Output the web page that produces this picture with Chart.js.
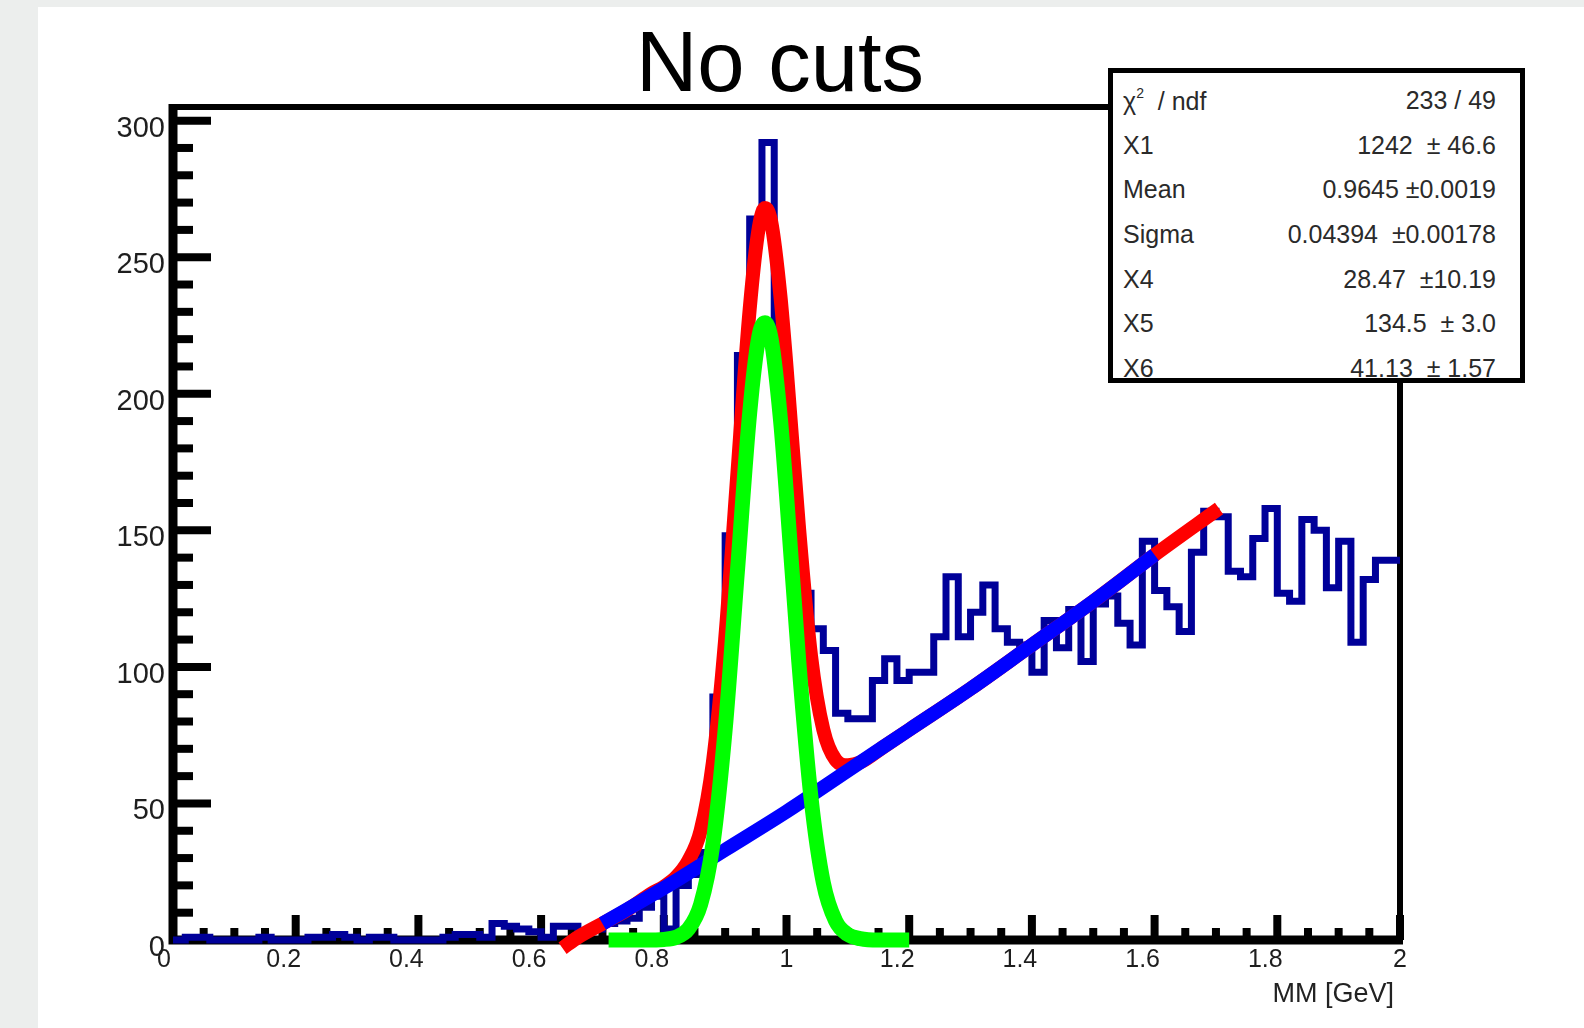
<!DOCTYPE html>
<html lang="en">
<head>
<meta charset="UTF-8" />
<title>No cuts</title>
<script src="https://cdn.jsdelivr.net/npm/chart.js"></script>
<style>
  html, body { margin: 0; padding: 0; }
  body {
    width: 1584px; height: 1028px; position: relative; overflow: hidden;
    background: #eceeed; font-family: "Liberation Sans", Arial, sans-serif;
  }
  .panel { position: absolute; left: 38px; top: 7px; right: 0; bottom: 0; background: #fff; }
  #chart { position: absolute; left: 0; top: 0; }
  .title {
    position: absolute; left: 380px; width: 800px; top: 19px;
    text-align: center; font-size: 85px; line-height: 1; color: #000;
  }
  .xtitle {
    position: absolute; right: 190px; top: 980px;
    font-size: 27px; line-height: 1; color: #222;
  }
  .stats {
    position: absolute; left: 1108px; top: 68px; width: 417px; height: 315px;
    box-sizing: border-box; border: 5px solid #000; background: #fff;
    padding: 5px 24px 0 10px; overflow: hidden; color: #2a2a2a;
  }
  .stats .row {
    display: flex; justify-content: space-between; align-items: center;
    height: 44.7px; font-size: 25px; white-space: pre;
  }
  .stats sup { font-size: 14px; vertical-align: 12px; }
</style>
</head>
<body>
  <div class="panel"></div>
  <canvas id="chart" width="1584" height="1028"></canvas>
  <div class="title">No cuts</div>
  <div class="xtitle">MM [GeV]</div>
  <div class="stats" id="stats"></div>

  <script>
    // histogram: 100 bins of 0.02 GeV from 0 to 2
    const binWidth = 0.02;
    const counts = [
      0, 1, 1, 0, 0, 0, 0, 1, 0, 0,
      0, 1, 1, 2, 1, 0, 1, 1, 0, 0,
      0, 0, 1, 2, 2, 1, 6, 5, 4, 3,
      1, 5, 5, 3, 4, 6, 7, 8, 12, 16,
      4, 20, 24, 32, 89, 148, 214, 264, 292, 203,
      163, 127, 114, 106, 83, 81, 81, 95, 103, 95,
      98, 98, 111, 133, 111, 120, 130, 114, 109, 108,
      98, 117, 107, 121, 102, 123, 126, 116, 108, 146,
      128, 122, 113, 142, 157, 155, 135, 133, 147, 158,
      127, 124, 154, 150, 129, 146, 109, 132, 139, 139
    ];

    // fit curves
    const totalX = [0.635, 0.66, 0.70, 0.74, 0.78, 0.80, 0.82, 0.84, 0.86, 0.88, 0.90, 0.92, 0.94, 0.955, 0.965, 0.975, 0.99, 1.00, 1.02, 1.04, 1.06, 1.08, 1.10, 1.12, 1.16, 1.20, 1.30, 1.40, 1.50, 1.60, 1.705];
    const totalY = [-3, 1, 6, 11, 17, 19.5, 23, 29, 40, 65, 110, 171, 231, 261, 268, 263, 236, 210, 152, 104, 77, 66, 64, 65, 71, 77, 92, 108, 124, 141, 158];

    const bkgX = [0.70, 0.80, 0.90, 1.00, 1.10, 1.20, 1.30, 1.40, 1.50, 1.60];
    const bkgY = [6, 19, 33, 47, 62, 77, 92, 108, 124, 141];

    const sigX = [0.71, 0.74, 0.77, 0.80, 0.82, 0.84, 0.86, 0.88, 0.90, 0.92, 0.94, 0.955, 0.965, 0.975, 0.99, 1.00, 1.02, 1.04, 1.06, 1.08, 1.10, 1.12, 1.15, 1.20];
    const sigY = [0, 0, 0, 0.2, 1, 4, 13, 35, 77, 135, 193, 221, 226, 220, 191, 163, 102, 52, 21, 7, 2, 0.5, 0, 0];

    // axis ticks
    const xTickLabels = ['0', '0.2', '0.4', '0.6', '0.8', '1', '1.2', '1.4', '1.6', '1.8', '2'];
    const yTickLabels = ['0', '50', '100', '150', '200', '250', '300'];
    const xMinorStep = 0.05;
    const yMinorStep = 10;

    // stats box
    const statNames = ['χ<sup>2</sup>  / ndf', 'X1', 'Mean', 'Sigma', 'X4', 'X5', 'X6'];
    const statValues = ['233 / 49', '1242  ± 46.6', '0.9645 ±0.0019', '0.04394  ±0.00178', '28.47  ±10.19', '134.5  ± 3.0', '41.13  ± 1.57'];

    const statsBox = document.getElementById('stats');
    statNames.forEach((n, i) => {
      const row = document.createElement('div');
      row.className = 'row';
      row.innerHTML = '<span>' + n + '</span><span>' + statValues[i] + '</span>';
      statsBox.appendChild(row);
    });

    const histPoints = counts.map((c, i) => ({ x: +(i * binWidth).toFixed(2), y: c }));
    histPoints.push({ x: 2, y: counts[counts.length - 1] });
    const zip = (xs, ys) => xs.map((x, i) => ({ x: x, y: ys[i] }));

    // ROOT-like frame with inward ticks
    const frame = {
      id: 'frame',
      beforeDatasetsDraw(chart) {
        const { ctx, chartArea: a, scales: { x, y } } = chart;
        ctx.save();
        ctx.strokeStyle = '#000';
        ctx.lineWidth = 6;
        ctx.strokeRect(a.left, a.top, a.right - a.left, a.bottom - a.top);
        ctx.lineWidth = 9;
        ctx.beginPath();
        ctx.moveTo(a.left, a.top - 3);
        ctx.lineTo(a.left, a.bottom);
        ctx.lineTo(a.right + 3, a.bottom);
        ctx.stroke();

        ctx.lineWidth = 8;
        const yMajor = yTickLabels.map(Number);
        for (let v = 0; v <= y.max; v += yMinorStep) {
          const py = y.getPixelForValue(v);
          const len = yMajor.includes(v) ? 38 : 20;
          ctx.beginPath();
          ctx.moveTo(a.left, py);
          ctx.lineTo(a.left + len, py);
          ctx.stroke();
        }
        const xMajor = xTickLabels.map(Number);
        for (let k = 0; k * xMinorStep <= x.max + 1e-9; k++) {
          const v = +(k * xMinorStep).toFixed(2);
          const px = x.getPixelForValue(v);
          const len = xMajor.some(m => Math.abs(m - v) < 1e-9) ? 25 : 12;
          ctx.beginPath();
          ctx.moveTo(px, a.bottom);
          ctx.lineTo(px, a.bottom - len);
          ctx.stroke();
        }

        ctx.fillStyle = '#1e1e1e';
        ctx.font = '29px "Liberation Sans", Arial, sans-serif';
        ctx.textAlign = 'right';
        ctx.textBaseline = 'middle';
        yTickLabels.forEach(t => {
          ctx.fillText(t, a.left - 8, y.getPixelForValue(Number(t)) + 8);
        });
        ctx.font = '25px "Liberation Sans", Arial, sans-serif';
        ctx.textAlign = 'center';
        ctx.textBaseline = 'alphabetic';
        xTickLabels.forEach(t => {
          const shift = t.includes('.') ? 12 : (t === '0' ? 9 : 0);
          ctx.fillText(t, x.getPixelForValue(Number(t)) - shift, a.bottom + 27);
        });
        ctx.restore();
      }
    };

    new Chart(document.getElementById('chart'), {
      type: 'scatter',
      data: {
        datasets: [
          {
            label: 'signal',
            data: zip(sigX, sigY),
            showLine: true, pointRadius: 0,
            borderColor: '#00ff00', borderWidth: 15,
            cubicInterpolationMode: 'monotone',
            borderCapStyle: 'butt', clip: false, order: 1
          },
          {
            label: 'background',
            data: zip(bkgX, bkgY),
            showLine: true, pointRadius: 0,
            borderColor: '#0000ff', borderWidth: 14,
            cubicInterpolationMode: 'monotone',
            borderCapStyle: 'butt', clip: false, order: 2
          },
          {
            label: 'total',
            data: zip(totalX, totalY),
            showLine: true, pointRadius: 0,
            borderColor: '#ff0000', borderWidth: 14,
            cubicInterpolationMode: 'monotone',
            borderCapStyle: 'butt', clip: false, order: 3
          },
          {
            label: 'MM',
            data: histPoints,
            showLine: true, pointRadius: 0, stepped: true,
            borderColor: '#000099', borderWidth: 7,
            borderJoinStyle: 'miter', borderCapStyle: 'butt',
            clip: false, order: 4
          }
        ]
      },
      options: {
        responsive: false,
        animation: false,
        layout: { padding: { left: 173, right: 184, top: 107, bottom: 88 } },
        scales: {
          x: { type: 'linear', min: 0, max: 2, display: false },
          y: { type: 'linear', min: 0, max: 305, display: false }
        },
        plugins: {
          legend: { display: false },
          tooltip: { enabled: false }
        }
      },
      plugins: [frame]
    });
  </script>
</body>
</html>
